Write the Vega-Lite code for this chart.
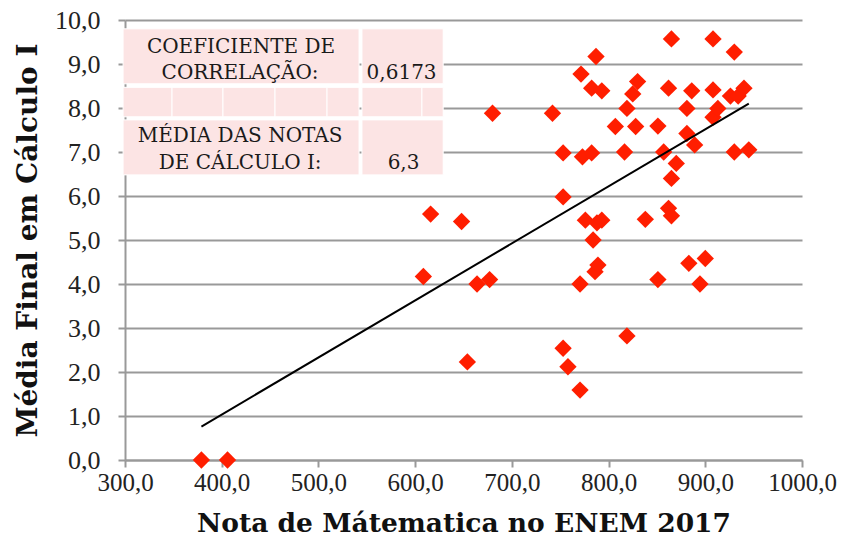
{
  "$schema": "https://vega.github.io/schema/vega-lite/v6.json",
  "width": 677,
  "height": 440,
  "autosize": {"type": "none"},
  "padding": {"left": 125, "top": 20, "right": 46, "bottom": 85},
  "background": "white",
  "config": {
    "view": {"stroke": null},
    "axis": {
      "labelColor": "#222222",
      "titleFont": "DejaVu Serif",
      "titleFontWeight": "bold",
      "titleColor": "#111111",
      "domainColor": "#999999",
      "domainWidth": 2,
      "tickColor": "#999999",
      "tickWidth": 2,
      "tickSize": 7,
      "gridColor": "#999999",
      "gridWidth": 2
    }
  },
  "datasets": {
    "pts": [
      {"nota": 379, "media": 0}, {"nota": 406, "media": 0},
      {"nota": 608.5, "media": 4.17}, {"nota": 616, "media": 5.59},
      {"nota": 648, "media": 5.42}, {"nota": 654, "media": 2.23},
      {"nota": 664, "media": 4.0}, {"nota": 677, "media": 4.1},
      {"nota": 680, "media": 7.88}, {"nota": 742, "media": 7.88},
      {"nota": 753, "media": 6.98}, {"nota": 753, "media": 5.98},
      {"nota": 753, "media": 2.54}, {"nota": 758, "media": 2.12},
      {"nota": 770.5, "media": 1.59}, {"nota": 770.5, "media": 4.0},
      {"nota": 771.5, "media": 8.77}, {"nota": 773, "media": 6.89},
      {"nota": 776, "media": 5.45}, {"nota": 782.5, "media": 6.98},
      {"nota": 782.5, "media": 8.45}, {"nota": 784, "media": 5.0},
      {"nota": 786, "media": 4.28}, {"nota": 789, "media": 4.43},
      {"nota": 788, "media": 5.39}, {"nota": 787, "media": 9.17},
      {"nota": 793, "media": 8.39}, {"nota": 793, "media": 5.45},
      {"nota": 807, "media": 7.58}, {"nota": 816.5, "media": 7.0},
      {"nota": 819, "media": 7.99}, {"nota": 819, "media": 2.82},
      {"nota": 825, "media": 8.32}, {"nota": 828, "media": 7.58},
      {"nota": 830, "media": 8.6}, {"nota": 838, "media": 5.47},
      {"nota": 851, "media": 7.59}, {"nota": 851, "media": 4.1},
      {"nota": 857, "media": 7.0}, {"nota": 862, "media": 8.45},
      {"nota": 862, "media": 5.72}, {"nota": 865, "media": 5.55},
      {"nota": 865, "media": 6.4}, {"nota": 865, "media": 9.57},
      {"nota": 870, "media": 6.74}, {"nota": 881, "media": 7.99},
      {"nota": 881, "media": 7.42}, {"nota": 883, "media": 4.47},
      {"nota": 886, "media": 8.39}, {"nota": 889, "media": 7.16},
      {"nota": 894.5, "media": 4.0}, {"nota": 900, "media": 4.58},
      {"nota": 908, "media": 9.57}, {"nota": 908, "media": 8.41},
      {"nota": 908, "media": 7.79}, {"nota": 913, "media": 7.99},
      {"nota": 926, "media": 8.27}, {"nota": 930, "media": 9.27},
      {"nota": 930, "media": 7.0}, {"nota": 934, "media": 8.27},
      {"nota": 940, "media": 8.45}, {"nota": 945, "media": 7.05}
    ],
    "trend": [
      {"nota": 379, "media": 0.76},
      {"nota": 945, "media": 8.1}
    ],
    "cells": [
      {"x1": 298, "x2": 542, "y1": 9.8, "y2": 8.55},
      {"x1": 545, "x2": 629, "y1": 9.8, "y2": 8.55},
      {"x1": 298, "x2": 348.6, "y1": 8.47, "y2": 7.8},
      {"x1": 348.6, "x2": 401.3, "y1": 8.47, "y2": 7.8},
      {"x1": 401.3, "x2": 455.1, "y1": 8.47, "y2": 7.8},
      {"x1": 455.1, "x2": 508.9, "y1": 8.47, "y2": 7.8},
      {"x1": 508.9, "x2": 542, "y1": 8.47, "y2": 7.8},
      {"x1": 545, "x2": 607, "y1": 8.47, "y2": 7.8},
      {"x1": 607, "x2": 629, "y1": 8.47, "y2": 7.8},
      {"x1": 298, "x2": 542, "y1": 7.73, "y2": 6.48},
      {"x1": 545, "x2": 629, "y1": 7.73, "y2": 6.48}
    ],
    "labels": [
      {"x": 420, "y": 9.38, "t": "COEFICIENTE DE"},
      {"x": 419, "y": 8.8, "t": "CORRELAÇÃO:"},
      {"x": 586, "y": 8.8, "t": "0,6173"},
      {"x": 419, "y": 7.37, "t": "MÉDIA DAS NOTAS"},
      {"x": 419, "y": 6.75, "t": "DE CÁLCULO I:"},
      {"x": 588, "y": 6.75, "t": "6,3"}
    ]
  },
  "layer": [
    {
      "data": {"name": "pts"},
      "mark": {"type": "point", "shape": "diamond", "filled": true, "size": 300, "color": "#FF1E00", "opacity": 1},
      "encoding": {
        "x": {
          "field": "nota", "type": "quantitative",
          "scale": {"domain": [300, 1000], "nice": false, "zero": false},
          "axis": {
            "title": "Nota de Mátematica no ENEM 2017",
            "titleFontSize": 26.5,
            "labelFont": "Liberation Serif",
            "labelFontSize": 25,
            "labelFlush": false,
            "labelOverlap": false,
            "labelAlign": "center",
            "values": [300, 400, 500, 600, 700, 800, 900, 1000],
            "labelExpr": "replace(format(datum.value, '.1f'), '.', ',')",
            "grid": false,
            "labelPadding": 3,
            "titlePadding": 15
          }
        },
        "y": {
          "field": "media", "type": "quantitative",
          "scale": {"domain": [0, 10], "nice": false},
          "axis": {
            "title": "Média Final em Cálculo I",
            "titleFontSize": 28,
            "labelFont": "Liberation Serif",
            "labelFontSize": 26,
            "labelFlush": false,
            "labelOverlap": false,
            "values": [0, 1, 2, 3, 4, 5, 6, 7, 8, 9, 10],
            "labelExpr": "replace(format(datum.value, '.1f'), '.', ',')",
            "grid": true,
            "labelPadding": 18,
            "titlePadding": 12
          }
        }
      }
    },
    {
      "data": {"name": "trend"},
      "mark": {"type": "line", "color": "#000000", "strokeWidth": 2},
      "encoding": {
        "x": {"field": "nota", "type": "quantitative"},
        "y": {"field": "media", "type": "quantitative"}
      }
    },
    {
      "data": {"name": "cells"},
      "mark": {"type": "rect", "fill": "#FCE4E4", "stroke": "white", "strokeWidth": 1},
      "encoding": {
        "x": {"field": "x1", "type": "quantitative"},
        "x2": {"field": "x2"},
        "y": {"field": "y1", "type": "quantitative"},
        "y2": {"field": "y2"}
      }
    },
    {
      "data": {"name": "labels"},
      "mark": {"type": "text", "font": "DejaVu Serif", "fontSize": 20, "align": "center", "baseline": "middle", "color": "#1a1a1a"},
      "encoding": {
        "x": {"field": "x", "type": "quantitative"},
        "y": {"field": "y", "type": "quantitative"},
        "text": {"field": "t"}
      }
    }
  ]
}
